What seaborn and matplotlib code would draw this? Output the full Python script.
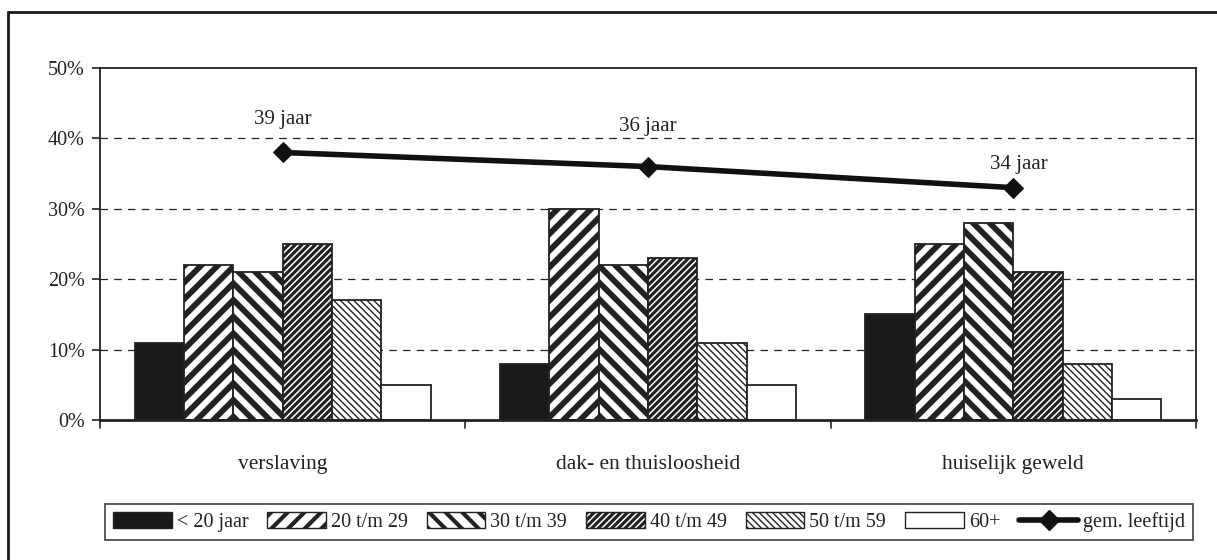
import matplotlib
matplotlib.use("Agg")
import matplotlib.pyplot as plt
import seaborn as sns
import pandas as pd
import numpy as np
from matplotlib.lines import Line2D
from matplotlib.patches import Patch

categories = ["verslaving", "dak- en thuisloosheid", "huiselijk geweld"]
age_groups = ["< 20 jaar", "20 t/m 29", "30 t/m 39", "40 t/m 49", "50 t/m 59", "60+"]
values = {
    "< 20 jaar": [11, 8, 15],
    "20 t/m 29": [22, 30, 25],
    "30 t/m 39": [21, 22, 28],
    "40 t/m 49": [25, 23, 21],
    "50 t/m 59": [17, 11, 8],
    "60+": [5, 5, 3],
}
line_values = [38, 36, 33]
line_labels = ["39 jaar", "36 jaar", "34 jaar"]
line_name = "gem. leeftijd"

sns.set_theme(style="white")
plt.rcParams["font.family"] = ["Liberation Serif", "DejaVu Serif"]

rows = []
for g in age_groups:
    for c, v in zip(categories, values[g]):
        rows.append({"cat": c, "age": g, "val": v})
df = pd.DataFrame(rows)

W, H = 1217, 560
fig = plt.figure(figsize=(W / 100, H / 100), dpi=100)
ax = fig.add_axes([100 / W, 1 - 420 / H, (1196 - 100) / W, (420 - 68) / H])

styles = {
    "< 20 jaar": dict(face="#1a1a1a", hatch=None, hlw=1.0),
    "20 t/m 29": dict(face="white", hatch="//", hlw=4.2),
    "30 t/m 39": dict(face="white", hatch="\\\\", hlw=4.2),
    "40 t/m 49": dict(face="white", hatch="/////", hlw=2.3),
    "50 t/m 59": dict(face="white", hatch="\\\\\\\\\\", hlw=1.0),
    "60+": dict(face="white", hatch=None, hlw=1.0),
}

sns.barplot(data=df, x="cat", y="val", hue="age", order=categories, hue_order=age_groups,
            palette=["white"] * 6, width=0.81, ax=ax, legend=False, saturation=1,
            edgecolor="#222222", linewidth=1.3)

def style_patch(p, st, hlw=None):
    p.set_facecolor(st["face"])
    p.set_edgecolor("#222222")
    if st["hatch"]:
        p.set_hatch(st["hatch"])
        if hasattr(p, "set_hatch_linewidth"):
            p.set_hatch_linewidth(hlw if hlw else st["hlw"])

for cont, g in zip(ax.containers, age_groups):
    for p in cont.patches:
        style_patch(p, styles[g])

xs = np.arange(len(categories))
sns.lineplot(x=xs, y=line_values, ax=ax, color="#111111", linewidth=4, marker="D",
             markersize=10, markeredgecolor="#111111", legend=False)
offsets = [(0, 24), (0, 29), (4, 17)]
for x, y, lab, off in zip(xs, line_values, line_labels, offsets):
    ax.annotate(lab, (x, y), xytext=off, textcoords="offset points", ha="center",
                va="center", fontsize=15, color="#222222")

ax.set_ylim(0, 50)
ax.set_xlim(-0.5, 2.5)
ax.set_yticks(range(0, 51, 10))
ax.set_yticklabels([f"{t}%" for t in range(0, 51, 10)], color="#222222", fontsize=14.5)
ax.set_xticks(xs)
ax.set_xticklabels(categories, color="#222222", fontsize=15.5)
ax.tick_params(axis="x", length=0, pad=25)
ax.tick_params(axis="y", length=6, width=1.2, color="#222222", left=True, direction="out", pad=5)
for b in [-0.5, 0.5, 1.5, 2.5]:
    ax.plot([b, b], [0, -1.2], color="#222222", lw=1.2, clip_on=False)
ax.set_xlabel("")
ax.set_ylabel("")
for yv in [10, 20, 30, 40]:
    ax.axhline(yv, color="#222222", lw=0.9, ls=(0, (6, 5)), zorder=0)
for s in ax.spines.values():
    s.set_visible(True)
    s.set_color("#222222")
    s.set_linewidth(1.3)
ax.spines["bottom"].set_linewidth(2)

handles = []
for g in age_groups:
    st = styles[g]
    h = Patch(facecolor=st["face"], edgecolor="#222222", hatch=st["hatch"], linewidth=1.0)
    handles.append(h)
handles.append(Line2D([], [], color="#111111", lw=4, marker="D", markersize=10))
leg = fig.legend(handles, age_groups + [line_name], loc="center",
                 bbox_to_anchor=(649 / W, 1 - 522 / H), ncol=7, frameon=True,
                 fancybox=False, edgecolor="#222222", handlelength=2.9, handleheight=0.85,
                 handletextpad=0.25, columnspacing=0.95, borderpad=0.4, fontsize=14.5)
leg.get_frame().set_linewidth(1.3)
for t in leg.get_texts():
    t.set_color("#222222")
for p, g in zip(leg.get_patches(), age_groups):
    st = styles[g]
    if st["hatch"] and hasattr(p, "set_hatch_linewidth"):
        p.set_hatch_linewidth(min(st["hlw"], 3.0))

fig.add_artist(Line2D([8 / W, 8 / W], [0, 1 - 12 / H], color="#1a1a1a", lw=2,
                      transform=fig.transFigure))
fig.add_artist(Line2D([8 / W, 1], [1 - 12 / H, 1 - 12 / H], color="#1a1a1a", lw=2,
                      transform=fig.transFigure))

fig.savefig("out.png", dpi=100)
